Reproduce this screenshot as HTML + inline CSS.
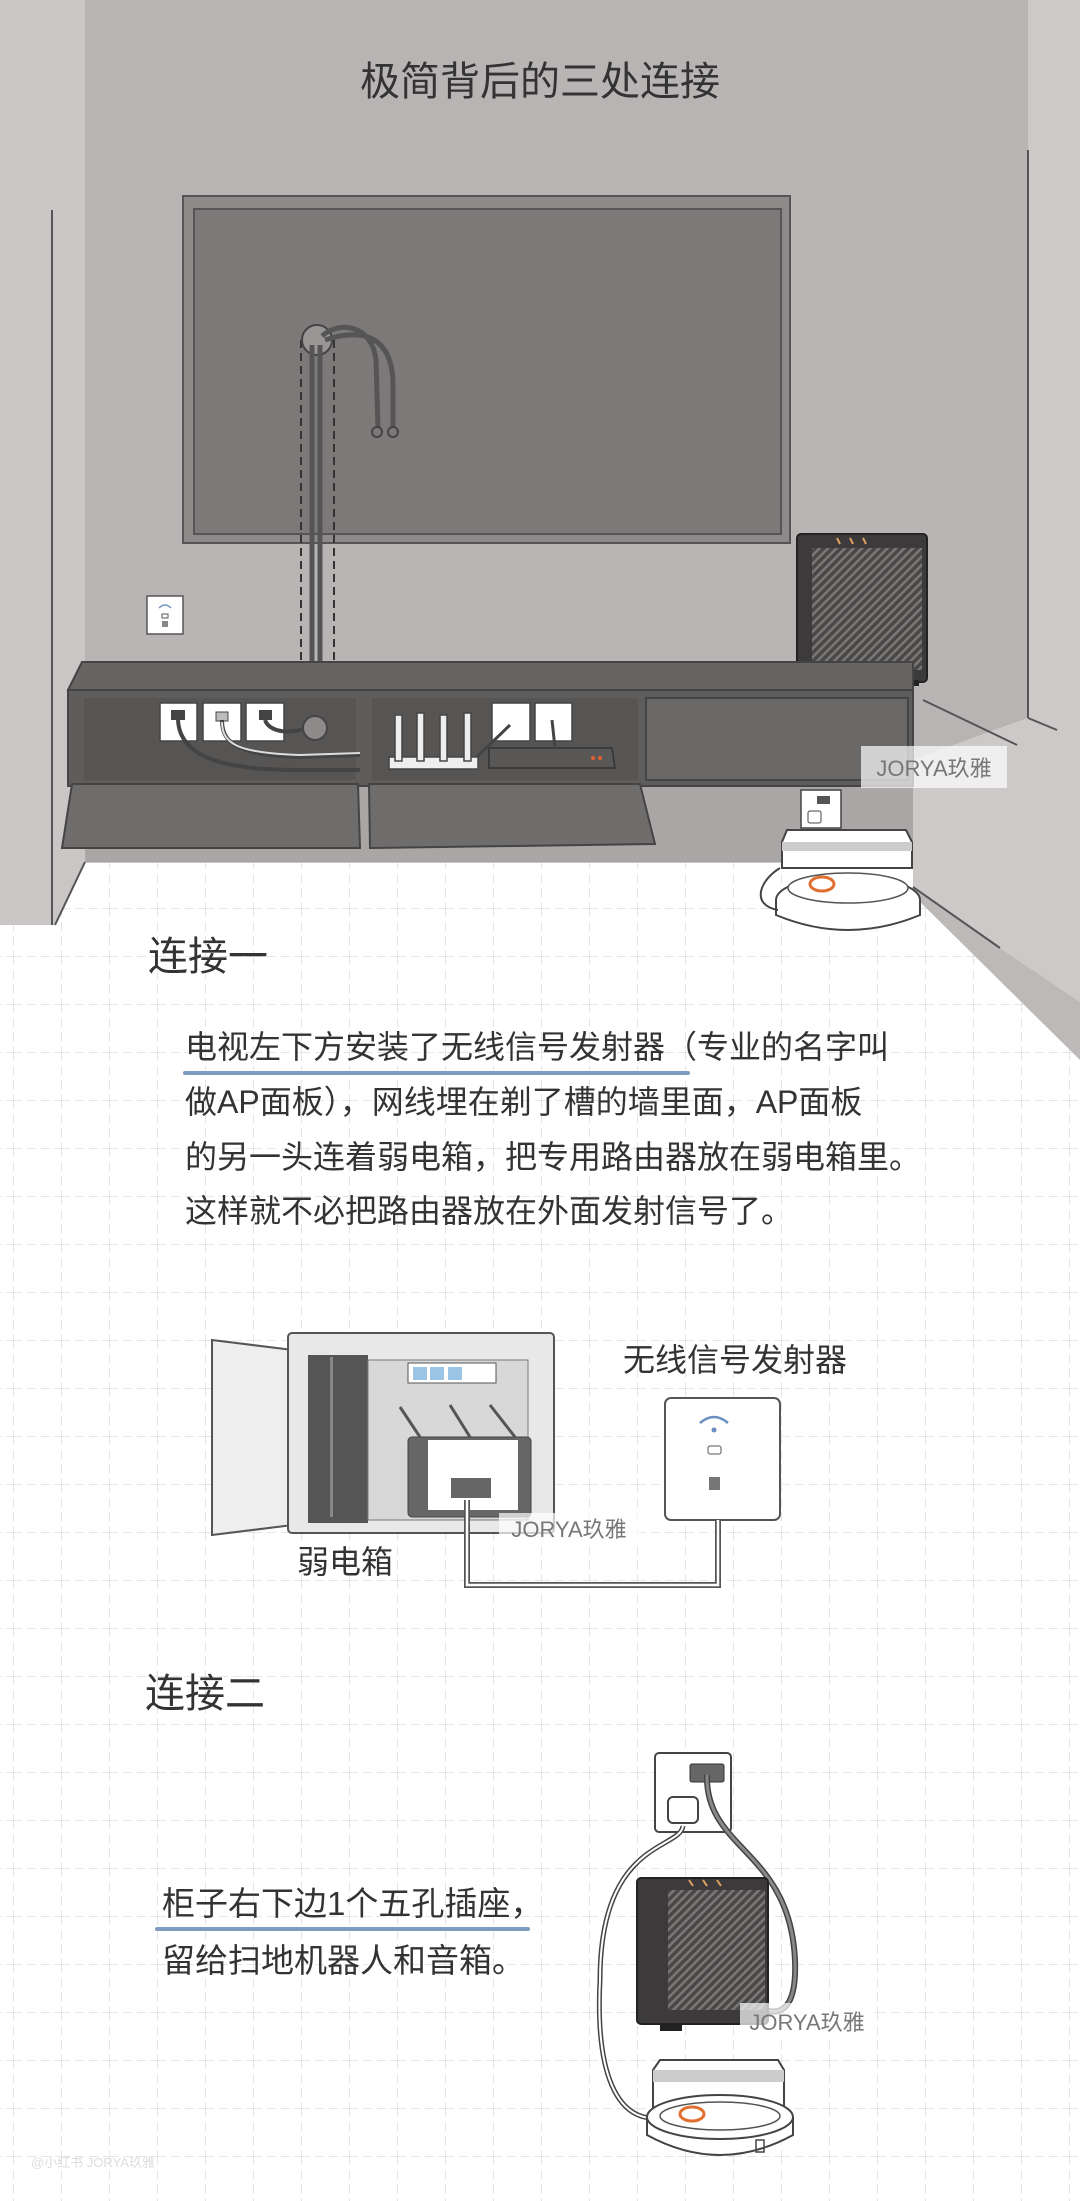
<!DOCTYPE html>
<html><head><meta charset="utf-8"><style>
html,body{margin:0;padding:0;background:#fff;}
svg{display:block;}
text{font-family:"Liberation Sans","Noto Sans CJK SC",sans-serif;}
</style></head><body>
<svg width="1080" height="2201" viewBox="0 0 1080 2201" xmlns="http://www.w3.org/2000/svg">
<defs>
<pattern id="grid" x="13" y="44" width="48" height="48" patternUnits="userSpaceOnUse">
<path d="M0 0V48M0 0H48" stroke="#e6e6e6" stroke-width="2" stroke-dasharray="9 5" fill="none"/>
</pattern>
<pattern id="hatch" width="6" height="6" patternUnits="userSpaceOnUse" patternTransform="rotate(45)">
<rect width="6" height="6" fill="#4a4747"/><rect width="2.5" height="6" fill="#7a7777"/>
</pattern>
</defs>
<rect width="1080" height="2201" fill="#fff"/>
<rect width="1080" height="2201" fill="url(#grid)"/>

<!-- walls -->
<polygon points="0,0 85,0 85,862 55,925 0,925" fill="#cac6c6"/>
<line x1="52" y1="210" x2="52" y2="925" stroke="#555" stroke-width="2"/>
<polygon points="85,0 1028,0 1028,718 913,760 913,862 85,862" fill="#b8b4b4"/>
<rect x="85" y="786" width="828" height="76" fill="#aaa6a6"/>
<polygon points="1028,0 1080,0 1080,1002 1000,948 913,887 913,760 1028,718" fill="#cdc9c9"/>
<line x1="1028" y1="150" x2="1028" y2="718" stroke="#555" stroke-width="2"/>
<line x1="1028" y1="718" x2="1057" y2="730" stroke="#555" stroke-width="2"/>
<line x1="923" y1="700" x2="1017" y2="745" stroke="#555" stroke-width="2"/>
<polygon points="913,887 1000,948 1080,1002 1080,1060 913,895" fill="#bdb9b9"/>
<line x1="913" y1="887" x2="1000" y2="948" stroke="#555" stroke-width="2"/>
<line x1="85" y1="862" x2="913" y2="862" stroke="#999" stroke-width="1"/>
<line x1="85" y1="862" x2="55" y2="925" stroke="#555" stroke-width="2"/>

<text x="540" y="95" font-size="40" fill="#333" text-anchor="middle">极简背后的三处连接</text>

<!-- TV -->
<rect x="183" y="196" width="607" height="347" fill="#8e8a8a" stroke="#555" stroke-width="2"/>
<rect x="194" y="209" width="587" height="325" fill="#7d7979" stroke="#555" stroke-width="2"/>
<line x1="301" y1="340" x2="301" y2="735" stroke="#333" stroke-width="2" stroke-dasharray="8 5"/>
<line x1="334" y1="340" x2="334" y2="735" stroke="#333" stroke-width="2" stroke-dasharray="8 5"/>
<circle cx="317" cy="340" r="15" fill="#9a9696" stroke="#444" stroke-width="2"/>
<path d="M312 345 V720 M320 345 V720" stroke="#555" stroke-width="5" fill="none"/>
<path d="M322 336 C340 320,372 325,376 360 L378 428 M325 340 C355 330,390 330,393 380 L393 428" stroke="#555" stroke-width="5" fill="none"/>
<circle cx="377" cy="432" r="5" fill="#7d7979" stroke="#444" stroke-width="2"/>
<circle cx="393" cy="432" r="5" fill="#7d7979" stroke="#444" stroke-width="2"/>

<!-- AP on wall -->
<rect x="147" y="596" width="36" height="38" fill="#fff" stroke="#555" stroke-width="1.5"/>
<path d="M159 608 Q165 602 171 608" stroke="#6a8fc0" stroke-width="1.5" fill="none"/>
<rect x="162" y="614" width="6" height="4" fill="none" stroke="#555"/>
<rect x="162" y="621" width="6" height="6" fill="#888"/>

<!-- speaker top right -->
<rect x="797" y="534" width="130" height="148" rx="4" fill="#3c3a3a" stroke="#222" stroke-width="2"/>
<rect x="812" y="548" width="110" height="122" fill="url(#hatch)"/>
<path d="M837 538 l3 6 M850 538 l3 6 M863 538 l3 6" stroke="#e0a060" stroke-width="2"/>
<rect x="806" y="680" width="14" height="6" fill="#222"/><rect x="905" y="680" width="14" height="6" fill="#222"/>

<!-- cabinet -->
<polygon points="82,662 913,662 913,690 68,690" fill="#676464" stroke="#444" stroke-width="2"/>
<rect x="68" y="690" width="845" height="96" fill="#5f5c5c" stroke="#444" stroke-width="2"/>
<rect x="646" y="698" width="262" height="82" fill="#6b6868" stroke="#444" stroke-width="2"/>
<rect x="84" y="698" width="272" height="82" fill="#575454"/>
<rect x="372" y="698" width="266" height="82" fill="#575454"/>
<polygon points="72,784 358,784 360,848 62,848" fill="#6f6c6c" stroke="#444" stroke-width="2"/>
<polygon points="369,784 640,784 655,844 370,848" fill="#6f6c6c" stroke="#444" stroke-width="2"/>
<g fill="#fff" stroke="#444" stroke-width="1.5">
<rect x="160" y="703" width="37" height="38"/><rect x="203" y="703" width="38" height="38"/><rect x="246" y="703" width="38" height="38"/>
<rect x="492" y="703" width="38" height="38"/><rect x="535" y="703" width="37" height="38"/>
</g>
<rect x="171" y="710" width="14" height="10" fill="#444"/><rect x="216" y="712" width="12" height="9" fill="#bbb" stroke="#444"/><rect x="259" y="710" width="13" height="10" fill="#444"/>
<path d="M178 720 C180 760,230 770,300 770 L360 770 M222 720 C222 745,240 755,300 757 L360 755 M265 720 C270 735,300 735,318 722" stroke="#444" stroke-width="4" fill="none"/>
<path d="M222 722 C222 745,240 753,300 755 L360 753" stroke="#ddd" stroke-width="2" fill="none"/>
<circle cx="315" cy="728" r="12" fill="#8e8a8a" stroke="#444" stroke-width="2"/>
<polygon points="389,757 478,757 478,769 389,769" fill="#eee" stroke="#444" stroke-width="1.5"/>
<g fill="#eee" stroke="#444" stroke-width="1.5">
<rect x="395" y="715" width="7" height="46"/><rect x="417" y="713" width="7" height="48"/><rect x="440" y="715" width="7" height="46"/><rect x="464" y="713" width="7" height="48"/>
</g>
<polygon points="489,748 612,748 615,768 489,768" fill="#5a5757" stroke="#333" stroke-width="1.5"/>
<circle cx="600" cy="758" r="2" fill="#e06030"/><circle cx="593" cy="758" r="2" fill="#e06030"/>
<path d="M477 757 L510 725 M552 720 L555 748" stroke="#444" stroke-width="3" fill="none"/>

<!-- floor socket + robot top -->
<rect x="801" y="790" width="40" height="38" fill="#fff" stroke="#444" stroke-width="1.5"/>
<rect x="817" y="796" width="13" height="8" fill="#555"/>
<rect x="808" y="811" width="13" height="12" rx="2" fill="#fff" stroke="#444"/>
<polygon points="787,830 906,830 912,842 912,868 782,868 782,842" fill="#fff" stroke="#444" stroke-width="2"/>
<rect x="782" y="842" width="130" height="9" fill="#ccc"/>
<ellipse cx="848" cy="900" rx="72" ry="24" fill="#fff" stroke="#444" stroke-width="2"/>
<path d="M776 900 V915 Q848 945 920 915 V900" fill="#fff" stroke="#444" stroke-width="2"/>
<ellipse cx="848" cy="888" rx="60" ry="15" fill="#fff" stroke="#555" stroke-width="1.5"/>
<ellipse cx="822" cy="884" rx="12" ry="7" fill="#fff" stroke="#e07030" stroke-width="3"/>
<path d="M780 868 C760 880,750 905,778 910" stroke="#444" stroke-width="2" fill="none"/>

<rect x="861" y="746" width="146" height="42" fill="#fff" fill-opacity="0.7"/>
<text x="934" y="776" font-size="22" fill="#777" text-anchor="middle">JORYA玖雅</text>

<!-- section 1 -->
<text x="148" y="970" font-size="40" fill="#333">连接一</text>
<rect x="183" y="1071" width="507" height="4" rx="2" fill="#7f9cc0"/>
<g font-size="32" fill="#333">
<text x="185" y="1058">电视左下方安装了无线信号发射器（专业的名字叫</text>
<text x="185" y="1113">做AP面板），网线埋在剃了槽的墙里面，AP面板</text>
<text x="185" y="1168">的另一头连着弱电箱，把专用路由器放在弱电箱里。</text>
<text x="185" y="1222">这样就不必把路由器放在外面发射信号了。</text>
</g>

<!-- electrical box -->
<polygon points="212,1340 293,1350 293,1525 212,1535" fill="#eee" stroke="#555" stroke-width="2"/>
<rect x="288" y="1333" width="266" height="200" rx="4" fill="#e8e8e8" stroke="#555" stroke-width="2"/>
<rect x="308" y="1355" width="60" height="168" fill="#555"/>
<rect x="330" y="1357" width="3" height="160" fill="#888"/>
<rect x="368" y="1360" width="160" height="160" fill="#d8d8d8" stroke="#777"/>
<rect x="408" y="1363" width="88" height="20" fill="#fff" stroke="#555"/>
<rect x="413" y="1367" width="14" height="13" fill="#9cc4e4"/><rect x="430" y="1367" width="14" height="13" fill="#9cc4e4"/><rect x="448" y="1367" width="14" height="13" fill="#9cc4e4"/>
<rect x="408" y="1437" width="123" height="80" rx="4" fill="#666" stroke="#444"/>
<path d="M428 1440 h90 v70 h-90 z" fill="#fff"/>
<rect x="451" y="1478" width="40" height="20" fill="#666"/>
<path d="M420 1437 L400 1407 M470 1437 L450 1405 M515 1437 L490 1405" stroke="#555" stroke-width="3"/>
<text x="297" y="1573" font-size="32" fill="#333">弱电箱</text>
<text x="623" y="1371" font-size="32" fill="#333">无线信号发射器</text>
<rect x="665" y="1398" width="115" height="122" rx="6" fill="#fff" stroke="#555" stroke-width="2"/>
<path d="M700 1423 Q714 1411 728 1423" stroke="#6a8fc0" stroke-width="2.5" fill="none"/>
<circle cx="714" cy="1430" r="2.5" fill="#6a8fc0"/>
<rect x="708" y="1446" width="13" height="8" rx="2" fill="none" stroke="#555"/>
<rect x="709" y="1477" width="11" height="13" fill="#777"/>
<path d="M467 1500 V1585 H718 V1520" stroke="#555" stroke-width="6" fill="none"/>
<path d="M467 1500 V1585 H718 V1520" stroke="#fff" stroke-width="2.5" fill="none"/>
<rect x="499" y="1513" width="141" height="31" fill="#fff" fill-opacity="0.7"/>
<text x="569" y="1537" font-size="22" fill="#777" text-anchor="middle">JORYA玖雅</text>

<!-- section 2 -->
<text x="145" y="1707" font-size="40" fill="#333">连接二</text>
<rect x="155" y="1927" width="375" height="4" rx="2" fill="#7f9cc0"/>
<text x="162" y="1915" font-size="33" fill="#333">柜子右下边1个五孔插座，</text>
<text x="162" y="1972" font-size="33" fill="#333">留给扫地机器人和音箱。</text>

<rect x="655" y="1753" width="76" height="79" rx="4" fill="#fff" stroke="#444" stroke-width="2"/>
<rect x="690" y="1764" width="34" height="18" rx="2" fill="#666" stroke="#333"/>
<rect x="668" y="1797" width="30" height="26" rx="5" fill="#fff" stroke="#444" stroke-width="2"/>
<path d="M683 1826 C680 1850,600 1840,600 1980 C595 2080,620 2115,650 2118" stroke="#444" stroke-width="5" fill="none"/>
<path d="M683 1826 C680 1850,600 1840,600 1980 C595 2080,620 2115,650 2118" stroke="#fff" stroke-width="2" fill="none"/>
<path d="M707 1775 C705 1850,790 1850,795 1960 C797 2010,780 2015,765 2010" stroke="#444" stroke-width="6" fill="none"/>
<path d="M707 1775 C705 1850,790 1850,795 1960 C797 2010,780 2015,765 2010" stroke="#888" stroke-width="3" fill="none"/>
<rect x="637" y="1878" width="131" height="146" rx="4" fill="#3c3a3a" stroke="#222" stroke-width="2"/>
<rect x="668" y="1890" width="97" height="120" fill="url(#hatch)"/>
<path d="M689 1880 l4 6 M703 1880 l4 6 M717 1880 l4 6" stroke="#e0a060" stroke-width="2"/>
<rect x="660" y="2024" width="22" height="7" fill="#222"/>
<rect x="740" y="2003" width="135" height="38" fill="#fff" fill-opacity="0.7"/>
<text x="807" y="2030" font-size="22" fill="#777" text-anchor="middle">JORYA玖雅</text>

<polygon points="660,2060 778,2060 784,2070 784,2110 653,2110 653,2070" fill="#fff" stroke="#444" stroke-width="2"/>
<rect x="653" y="2070" width="131" height="12" fill="#ccc"/>
<path d="M647 2117 V2135 Q720 2175 793 2135 V2117" fill="#fff" stroke="#444" stroke-width="2"/>
<ellipse cx="720" cy="2117" rx="73" ry="22" fill="#fff" stroke="#444" stroke-width="2"/>
<ellipse cx="720" cy="2116" rx="60" ry="14" fill="#fff" stroke="#555" stroke-width="1.5"/>
<ellipse cx="692" cy="2114" rx="12" ry="7" fill="#fff" stroke="#e07030" stroke-width="3"/>
<rect x="756" y="2140" width="8" height="12" fill="none" stroke="#444" stroke-width="1.5"/>

<text x="31" y="2167" font-size="13" fill="#ddd">@小红书 JORYA玖雅</text>
</svg>
</body></html>
